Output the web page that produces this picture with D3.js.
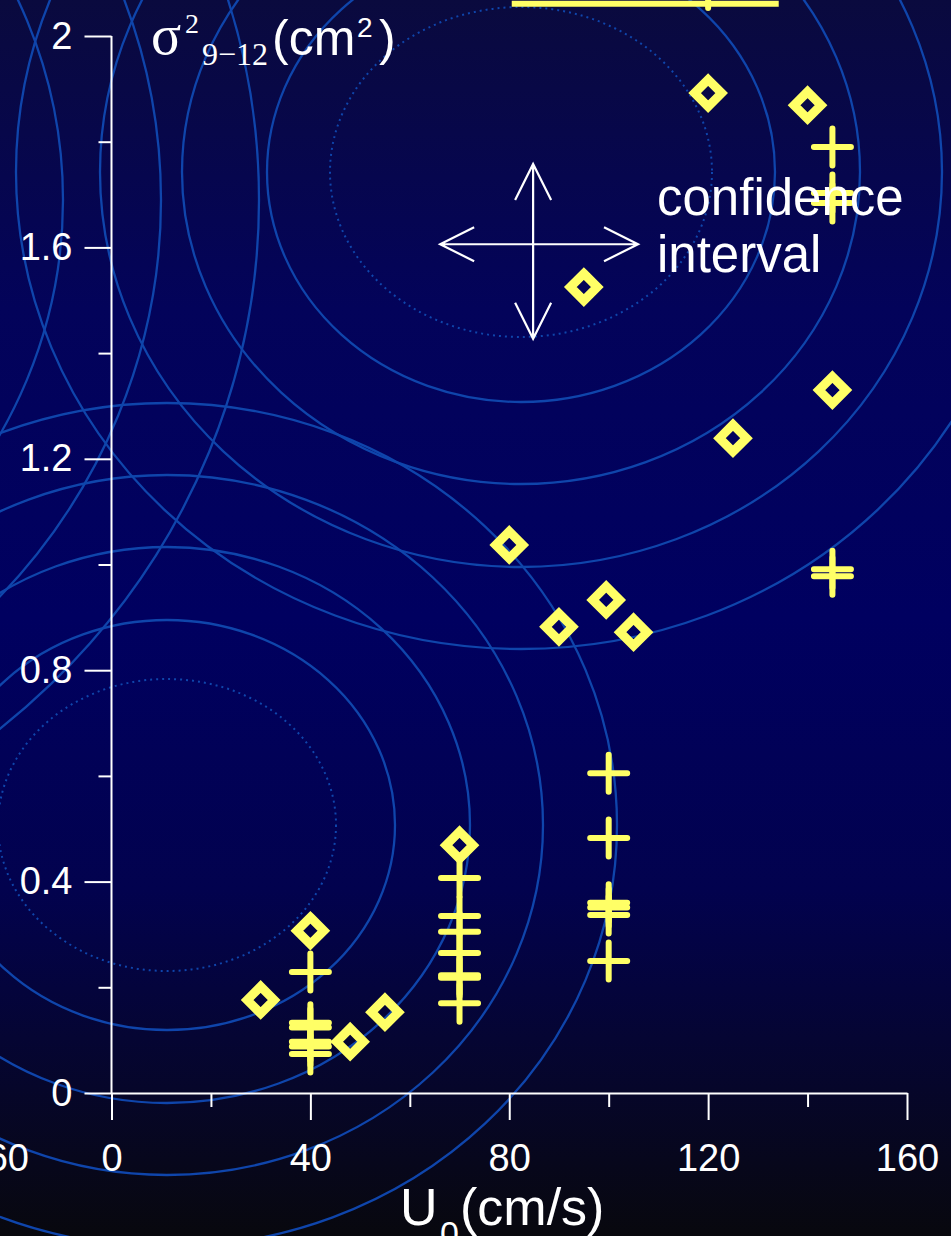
<!DOCTYPE html>
<html>
<head>
<meta charset="utf-8">
<script src="https://cdn.jsdelivr.net/npm/d3@7"></script>
<style>
html, body { margin: 0; padding: 0; background: #000; }
svg { display: block; }
</style>
</head>
<body>
<svg id="chart" width="951" height="1236"></svg>
<script>
// diamonds: sigma^2 (9-12) against U0
const diamondU = [30, 40, 48, 55, 70, 80, 90, 99.5, 105, 95, 125, 120, 140, 145];
const diamondV = [0.176, 0.307, 0.097, 0.153, 0.469, 1.037, 0.882, 0.933, 0.872, 1.525, 1.239, 1.892, 1.869, 1.330];

// crosses
const crossU = [40, 40, 40, 40, 40, 40,
	70, 70, 70, 70, 70, 70, 70,
	100, 100, 100, 100, 100, 100,
	145, 145, 145, 145, 145,
	120];
const crossV = [0.229, 0.133, 0.124, 0.097, 0.088, 0.074,
	0.407, 0.335, 0.305, 0.265, 0.223, 0.218, 0.170,
	0.605, 0.4825, 0.360, 0.351, 0.337, 0.250,
	1.790, 1.703, 1.684, 0.991, 0.978,
	2.088];

// clipped segment at the very top
const topSegU = [80.5, 134.2];
const topSegV = 2.061;

// axes
const xMajor = [0, 40, 80, 120, 160];
const xMinor = [20, 60, 100, 140];
const yMajor = [0, 0.4, 0.8, 1.2, 1.6, 2];
const yMinor = [0.2, 0.6, 1.0, 1.4, 1.8];
const yLabels = ['0', '0.4', '0.8', '1.2', '1.6', '2'];

// confidence interval cross (data units)
const arrowU = [66.1, 105.9];
const arrowV = [1.427, 1.758];
const arrowCenter = { u: 84.8, v: 1.606 };

const W = 951, H = 1236;
const yellow = '#ffff66';
const ringCol = '#0f45ab';
const sans = '"Liberation Sans", Arial, sans-serif';
const serif = '"Liberation Serif", "Times New Roman", serif';

const x = d3.scaleLinear().domain([0, 160]).range([111.5, 907]);
const y = d3.scaleLinear().domain([0, 2]).range([1093, 36]);

const svg = d3.select('#chart');

// background
let defs = svg.append('defs');
let grad = defs.append('linearGradient').attr('id', 'bg')
	.attr('x1', 0).attr('y1', 0).attr('x2', 0).attr('y2', 1);
[[0, '#0a0a3e'], [0.25, '#03035a'], [0.5, '#000060'], [0.72, '#02024e'], [0.88, '#06062a'], [1, '#08080e']]
	.forEach(s => grad.append('stop').attr('offset', s[0]).attr('stop-color', s[1]));
svg.append('rect').attr('width', W).attr('height', H).attr('fill', 'url(#bg)');

// decorative rings
let ringSets = [
	{ cx: 521, cy: 172, dotted: [191, 165], rings: [[254, 230], [339, 312], [421, 395], [505, 477]] },
	{ cx: 167, cy: 825, dotted: [169, 146], rings: [[228, 205], [303, 278], [376, 350], [450, 422]] },
	{ cx: -450, cy: 200, dotted: null, rings: [[513, 488], [611, 586], [709, 684]] }
];
let gRings = svg.append('g').attr('fill', 'none').attr('stroke', ringCol);
ringSets.forEach(s => {
	if (s.dotted) {
		gRings.append('ellipse')
			.attr('cx', s.cx).attr('cy', s.cy)
			.attr('rx', s.dotted[0]).attr('ry', s.dotted[1])
			.attr('stroke-width', 2)
			.attr('stroke-dasharray', '2 4');
	}
	s.rings.forEach(r => {
		gRings.append('ellipse')
			.attr('cx', s.cx).attr('cy', s.cy)
			.attr('rx', r[0]).attr('ry', r[1])
			.attr('stroke-width', 2.3);
	});
});

// axes
function styleAxis(g) {
	g.selectAll('path, line').attr('stroke', '#fff').attr('stroke-width', 2);
	g.selectAll('text').attr('fill', '#fff').attr('font-family', sans).attr('font-size', 38);
}

let gy = svg.append('g').attr('transform', `translate(${x(0)},0)`)
	.call(d3.axisLeft(y).tickValues(yMajor).tickSize(27).tickSizeOuter(0).tickPadding(12)
		.tickFormat((d, i) => yLabels[i]))
	.call(styleAxis);
gy.select('.domain').attr('d', `M0,${y(2)}V${y(0)}`);
svg.append('g').attr('transform', `translate(${x(0)},0)`)
	.call(d3.axisLeft(y).tickValues(yMinor).tickSize(13).tickFormat(''))
	.call(g => g.select('.domain').remove())
	.call(styleAxis);

let gx = svg.append('g').attr('transform', `translate(0,${y(0)})`)
	.call(d3.axisBottom(x).tickValues(xMajor).tickSize(27).tickSizeOuter(0).tickPadding(24)
		.tickFormat(d3.format('d')))
	.call(styleAxis);
svg.append('g').attr('transform', `translate(0,${y(0)})`)
	.call(d3.axisBottom(x).tickValues(xMinor).tickSize(14).tickFormat(''))
	.call(g => g.select('.domain').remove())
	.call(styleAxis);

// stray label at the left edge
svg.append('text').attr('x', 29).attr('y', 1171)
	.attr('text-anchor', 'end').attr('fill', '#fff')
	.attr('font-family', sans).attr('font-size', 38).text('60');

// axis titles
let yt = svg.append('text').attr('fill', '#fff');
yt.append('tspan').attr('x', 151).attr('y', 54).attr('font-family', serif).attr('font-size', 56).text('σ');
yt.append('tspan').attr('x', 185).attr('y', 33).attr('font-family', serif).attr('font-size', 28).text('2');
yt.append('tspan').attr('x', 202).attr('y', 65).attr('font-family', serif).attr('font-size', 32).text('9−12');
yt.append('tspan').attr('x', 272).attr('y', 55).attr('font-family', sans).attr('font-size', 50).text('(cm');
yt.append('tspan').attr('x', 357).attr('y', 37).attr('font-family', sans).attr('font-size', 28).text('2');
yt.append('tspan').attr('x', 379).attr('y', 55).attr('font-family', sans).attr('font-size', 50).text(')');

let xt = svg.append('text').attr('fill', '#fff').attr('font-family', sans);
xt.append('tspan').attr('x', 400).attr('y', 1225).attr('font-size', 52).text('U');
xt.append('tspan').attr('x', 440).attr('y', 1245).attr('font-size', 34).text('0');
xt.append('tspan').attr('x', 460).attr('y', 1225).attr('font-size', 52).text('(cm/s)');

// crosses
let gCross = svg.append('g').attr('stroke', yellow).attr('stroke-width', 6)
	.attr('stroke-linecap', 'round').attr('fill', 'none');
crossU.forEach((u, i) => {
	gCross.append('path')
		.attr('transform', `translate(${x(u)},${y(crossV[i])})`)
		.attr('d', 'M-18.5,0H18.5M0,-18.5V18.5');
});

// clipped top segment
svg.append('line')
	.attr('x1', x(topSegU[0])).attr('x2', x(topSegU[1]))
	.attr('y1', y(topSegV)).attr('y2', y(topSegV))
	.attr('stroke', yellow).attr('stroke-width', 6);

// diamonds
let gDia = svg.append('g').attr('stroke', yellow).attr('stroke-width', 9)
	.attr('stroke-linejoin', 'miter').attr('fill', 'none');
diamondU.forEach((u, i) => {
	gDia.append('path')
		.attr('transform', `translate(${x(u)},${y(diamondV[i])})`)
		.attr('d', 'M0,-13.5L13.5,0L0,13.5L-13.5,0Z');
});

// confidence interval annotation
let cx0 = x(arrowCenter.u), cy0 = y(arrowCenter.v);
let xl = x(arrowU[0]), xr = x(arrowU[1]);
let yb = y(arrowV[0]), ytop = y(arrowV[1]);
let ap = d3.path();
ap.moveTo(xl, cy0); ap.lineTo(xr, cy0);
ap.moveTo(xl + 34, cy0 - 17); ap.lineTo(xl, cy0); ap.lineTo(xl + 34, cy0 + 17);
ap.moveTo(xr - 34, cy0 - 17); ap.lineTo(xr, cy0); ap.lineTo(xr - 34, cy0 + 17);
ap.moveTo(cx0, ytop); ap.lineTo(cx0, yb);
ap.moveTo(cx0 - 18, ytop + 36); ap.lineTo(cx0, ytop); ap.lineTo(cx0 + 18, ytop + 36);
ap.moveTo(cx0 - 18, yb - 36); ap.lineTo(cx0, yb); ap.lineTo(cx0 + 18, yb - 36);
svg.append('path').attr('d', ap.toString())
	.attr('fill', 'none').attr('stroke', '#fff').attr('stroke-width', 2.2);

let ct = svg.append('text').attr('fill', '#fff').attr('font-family', sans).attr('font-size', 51);
ct.append('tspan').attr('x', 657).attr('y', 215).text('confidence');
ct.append('tspan').attr('x', 657).attr('y', 272).text('interval');
</script>
</body>
</html>
